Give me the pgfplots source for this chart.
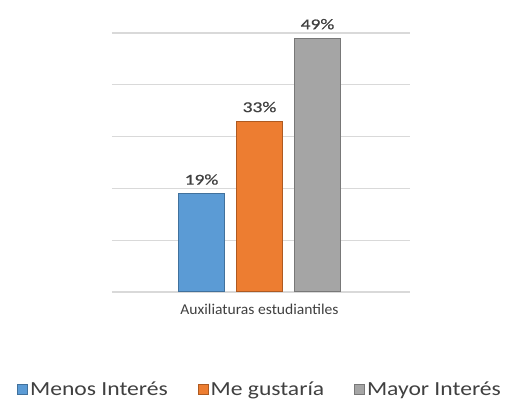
\documentclass[border=0pt]{standalone}
\usepackage{fontspec}
\setmainfont{Carlito}
\newfontfamily\numfont[FakeStretch=1.3, FakeBold=0.6]{Carlito}
\newfontfamily\legfont[FakeStretch=1.18]{Carlito}
\newfontfamily\catfont[FakeStretch=1.04]{Carlito}
\usepackage{pgfplots}
\pgfplotsset{compat=1.18}

\definecolor{cblue}{HTML}{5B9BD5}
\definecolor{cblueedge}{HTML}{41719C}
\definecolor{corange}{HTML}{ED7D31}
\definecolor{corangeedge}{HTML}{AE5A21}
\definecolor{cgray}{HTML}{A5A5A5}
\definecolor{cgrayedge}{HTML}{787878}
\definecolor{gridgray}{HTML}{D9D9D9}
\definecolor{txt}{HTML}{404040}

\begin{document}
\begin{tikzpicture}
\begin{axis}[
  scale only axis,
  width=298pt, height=259pt,
  xmin=-147.5, xmax=150.5,
  ymin=0, ymax=50,
  ybar=12pt, bar width=46pt,
  clip=false,
  axis line style={draw=none},
  tick style={draw=none},
  ytick={0,10,...,50}, yticklabels={},
  ymajorgrids,
  grid style={color=gridgray, line width=1.3pt},
  xtick={0}, xticklabels={Auxiliaturas estudiantiles},
  xticklabel style={font=\catfont\fontsize{15}{18}\selectfont, text=txt, anchor=north, yshift=-4pt},
  /pgf/number format/assume math mode=true,
  nodes near coords={\pgfmathprintnumber{\pgfplotspointmeta}\%},
  nodes near coords style={font=\numfont\fontsize{15}{18}\selectfont, text=txt, anchor=south, yshift=5pt},
  legend columns=3,
  legend style={draw=none, fill=none, at={(0.497,-0.375)}, anchor=center,
    font=\legfont\fontsize{20}{24}\selectfont, text=txt,
    /tikz/every odd column/.append style={column sep=0pt},
    /tikz/every even column/.append style={column sep=28pt}},
  legend image code/.code={\draw[#1, line width=0.8pt] (0pt,-5pt) rectangle (10pt,5pt);},
]
\addplot[fill=cblue, draw=cblueedge, line width=1pt] coordinates {(0,19)};
\addplot[fill=corange, draw=corangeedge, line width=1pt] coordinates {(0,33)};
\addplot[fill=cgray, draw=cgrayedge, line width=1pt] coordinates {(0,49)};
\legend{Menos Interés, Me gustaría, Mayor Interés}
\coordinate (bl) at (axis cs:-259.5,-20.85);
\coordinate (tr) at (axis cs:251.5,56.37);
\end{axis}
\pgfresetboundingbox
\useasboundingbox (bl) rectangle (tr);
\end{tikzpicture}
\end{document}
